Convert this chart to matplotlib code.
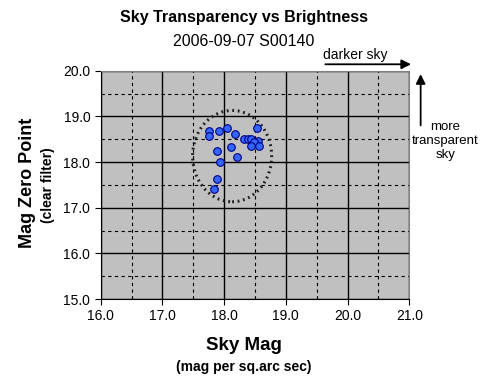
import matplotlib
matplotlib.use('Agg')
import matplotlib.pyplot as plt
from matplotlib.patches import Ellipse
from matplotlib.ticker import MultipleLocator

plt.rcParams['font.family'] = ['Liberation Sans', 'DejaVu Sans']

# sky brightness (mag per sq.arc sec) and zero point values
sky_mag = [17.76, 17.76, 17.92, 18.05, 18.18, 18.33, 18.38, 18.43, 18.54, 18.55,
           18.49, 18.43, 18.57, 18.11, 17.89, 18.21, 17.93, 17.88, 17.84]
zero_point = [18.67, 18.58, 18.68, 18.75, 18.62, 18.51, 18.51, 18.50, 18.75, 18.47,
              18.44, 18.36, 18.36, 18.34, 18.25, 18.10, 17.99, 17.62, 17.40]

ell_center = (18.13, 18.13)
ell_size = (1.28, 2.0)

fig = plt.figure(figsize=(4.88, 3.92), dpi=100)
ax = fig.add_axes([0.2063, 0.2372, 0.6324, 0.5824])
ax.set_facecolor('#C0C0C0')

ax.set_xlim(16, 21)
ax.set_ylim(15, 20)
ax.xaxis.set_major_locator(MultipleLocator(1))
ax.yaxis.set_major_locator(MultipleLocator(1))
ax.xaxis.set_minor_locator(MultipleLocator(0.5))
ax.yaxis.set_minor_locator(MultipleLocator(0.5))
ax.grid(which='major', color='black', linewidth=1.0, linestyle='-')
ax.grid(which='minor', color='black', linewidth=0.8, linestyle=(0, (3, 3)))
ax.set_axisbelow(True)
ax.tick_params(which='minor', length=0)
ax.tick_params(which='major', direction='out', length=4, labelsize=10, colors='black')
ax.set_xticklabels(['%.1f' % v for v in ax.get_xticks()])
ax.set_yticklabels(['%.1f' % v for v in ax.get_yticks()])

for side in ['top', 'right']:
    ax.spines[side].set_color('#808080')
for side in ['left', 'bottom']:
    ax.spines[side].set_color('black')

ax.scatter(sky_mag, zero_point, s=30, c='#3366FF', edgecolors='#000080',
           linewidths=0.8, zorder=3)
ax.add_patch(Ellipse(ell_center, ell_size[0], ell_size[1], fill=False,
                     edgecolor='#222222', linewidth=2.2, linestyle=(0, (0.6, 1.2)),
                     zorder=2))

fig.text(0.5, 0.955, 'Sky Transparency vs Brightness', ha='center', va='center',
         fontsize=11.5, fontweight='bold')
fig.text(0.5, 0.893, '2006-09-07 S00140', ha='center', va='center', fontsize=11.5)

fig.text(0.5, 0.118, 'Sky Mag', ha='center', va='center', fontsize=13.5, fontweight='bold')
fig.text(0.5, 0.063, '(mag per sq.arc sec)', ha='center', va='center',
         fontsize=10, fontweight='bold')
fig.text(0.057, 0.533, 'Mag Zero Point', ha='center', va='center', rotation=90,
         fontsize=13, fontweight='bold')
fig.text(0.099, 0.528, '(clear filter)', ha='center', va='center', rotation=90,
         fontsize=10, fontweight='bold')

# annotation arrows
fig.text(0.661, 0.86, 'darker sky', ha='left', va='center', fontsize=10)
ax.annotate('', xy=(0.848, 0.836), xytext=(0.661, 0.836), xycoords='figure fraction',
            arrowprops=dict(arrowstyle='-|>', color='black', lw=1.3, mutation_scale=14))
ax.annotate('', xy=(0.862, 0.818), xytext=(0.862, 0.673), xycoords='figure fraction',
            arrowprops=dict(arrowstyle='-|>', color='black', lw=1.3, mutation_scale=14))
fig.text(0.913, 0.64, 'more\ntransparent\nsky', ha='center', va='center',
         fontsize=9.5, linespacing=1.25)

fig.savefig('out.png', dpi=100)
